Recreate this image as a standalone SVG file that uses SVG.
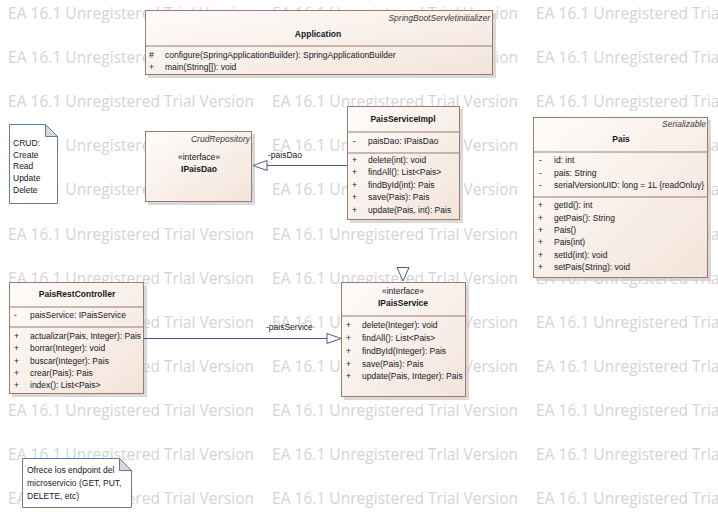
<svg xmlns="http://www.w3.org/2000/svg" width="718" height="512" viewBox="0 0 718 512">
<defs>
<linearGradient id="fillG" x1="0" y1="0" x2="1" y2="1">
<stop offset="0" stop-color="#fefcfa"/>
<stop offset="1" stop-color="#f3e4da"/>
</linearGradient>
<style>
.wm{font-family:"Open Sans","Liberation Sans",sans-serif;font-size:15.5px;fill:#d4d4d4}
.box{fill:url(#fillG);stroke:#9a7b70;stroke-width:1}
.sh{fill:#c9c9c9;opacity:0.7}
.div{stroke:#9a7b70;stroke-width:1}
.t{font-family:"Liberation Sans",Arial,sans-serif;font-size:8.5px;fill:#16161e}
.b{font-weight:bold;text-anchor:middle}
.st{font-style:italic;text-anchor:end;fill:#3a3a3a}
.c{text-anchor:middle}
.note{fill:#ffffff;stroke:#5f7f99;stroke-width:1}
.fold{fill:#d9d9d9;stroke:#5f7f99;stroke-width:1}
.con{stroke:#4c5a85;stroke-width:1;fill:none}
.head{fill:#ffffff;stroke:#4c5a85;stroke-width:1}
.lbl{font-family:"Liberation Sans",Arial,sans-serif;font-size:8.5px;fill:#16161e}
</style>
</defs>
<rect width="718" height="512" fill="#ffffff"/>
<g id="watermark">
<text class="wm" x="8" y="19" textLength="246">EA 16.1 Unregistered Trial Version</text>
<text class="wm" x="272" y="19" textLength="246">EA 16.1 Unregistered Trial Version</text>
<text class="wm" x="536" y="19" textLength="246">EA 16.1 Unregistered Trial Version</text>
<text class="wm" x="8" y="63" textLength="246">EA 16.1 Unregistered Trial Version</text>
<text class="wm" x="272" y="63" textLength="246">EA 16.1 Unregistered Trial Version</text>
<text class="wm" x="536" y="63" textLength="246">EA 16.1 Unregistered Trial Version</text>
<text class="wm" x="8" y="107" textLength="246">EA 16.1 Unregistered Trial Version</text>
<text class="wm" x="272" y="107" textLength="246">EA 16.1 Unregistered Trial Version</text>
<text class="wm" x="536" y="107" textLength="246">EA 16.1 Unregistered Trial Version</text>
<text class="wm" x="8" y="151" textLength="246">EA 16.1 Unregistered Trial Version</text>
<text class="wm" x="272" y="151" textLength="246">EA 16.1 Unregistered Trial Version</text>
<text class="wm" x="536" y="151" textLength="246">EA 16.1 Unregistered Trial Version</text>
<text class="wm" x="8" y="195" textLength="246">EA 16.1 Unregistered Trial Version</text>
<text class="wm" x="272" y="195" textLength="246">EA 16.1 Unregistered Trial Version</text>
<text class="wm" x="536" y="195" textLength="246">EA 16.1 Unregistered Trial Version</text>
<text class="wm" x="8" y="240" textLength="246">EA 16.1 Unregistered Trial Version</text>
<text class="wm" x="272" y="240" textLength="246">EA 16.1 Unregistered Trial Version</text>
<text class="wm" x="536" y="240" textLength="246">EA 16.1 Unregistered Trial Version</text>
<text class="wm" x="8" y="284" textLength="246">EA 16.1 Unregistered Trial Version</text>
<text class="wm" x="272" y="284" textLength="246">EA 16.1 Unregistered Trial Version</text>
<text class="wm" x="536" y="284" textLength="246">EA 16.1 Unregistered Trial Version</text>
<text class="wm" x="8" y="328" textLength="246">EA 16.1 Unregistered Trial Version</text>
<text class="wm" x="272" y="328" textLength="246">EA 16.1 Unregistered Trial Version</text>
<text class="wm" x="536" y="328" textLength="246">EA 16.1 Unregistered Trial Version</text>
<text class="wm" x="8" y="372" textLength="246">EA 16.1 Unregistered Trial Version</text>
<text class="wm" x="272" y="372" textLength="246">EA 16.1 Unregistered Trial Version</text>
<text class="wm" x="536" y="372" textLength="246">EA 16.1 Unregistered Trial Version</text>
<text class="wm" x="8" y="416" textLength="246">EA 16.1 Unregistered Trial Version</text>
<text class="wm" x="272" y="416" textLength="246">EA 16.1 Unregistered Trial Version</text>
<text class="wm" x="536" y="416" textLength="246">EA 16.1 Unregistered Trial Version</text>
<text class="wm" x="8" y="460" textLength="246">EA 16.1 Unregistered Trial Version</text>
<text class="wm" x="272" y="460" textLength="246">EA 16.1 Unregistered Trial Version</text>
<text class="wm" x="536" y="460" textLength="246">EA 16.1 Unregistered Trial Version</text>
<text class="wm" x="8" y="504" textLength="246">EA 16.1 Unregistered Trial Version</text>
<text class="wm" x="272" y="504" textLength="246">EA 16.1 Unregistered Trial Version</text>
<text class="wm" x="536" y="504" textLength="246">EA 16.1 Unregistered Trial Version</text>
</g>

<g id="Application">
<rect class="sh" x="148" y="13" width="348" height="65"/>
<rect class="box" x="145.5" y="10.5" width="347" height="64"/>
<text class="t st" x="490" y="21">SpringBootServletinitializer</text>
<text class="t b" x="318" y="37">Application</text>
<line class="div" x1="145.5" y1="46" x2="492.5" y2="46"/>
<text class="t" x="149" y="58">#</text>
<text class="t" x="165" y="58">configure(SpringApplicationBuilder): SpringApplicationBuilder</text>
<text class="t" x="149" y="70">+</text>
<text class="t" x="165" y="70">main(String[]): void</text>
</g>

<g id="noteCRUD">
<path class="note" d="M9.5,124.5 H45.5 L57.5,136.5 V203.5 H9.5 Z"/>
<path class="fold" d="M45.5,124.5 V136.5 H57.5 Z"/>
<text class="t" x="13" y="146">CRUD:</text>
<text class="t" x="13" y="158">Create</text>
<text class="t" x="13" y="169">Read</text>
<text class="t" x="13" y="181">Update</text>
<text class="t" x="13" y="193">Delete</text>
</g>

<g id="IPaisDao">
<rect class="sh" x="148" y="134" width="107" height="71"/>
<rect class="box" x="145.5" y="131.5" width="106" height="70"/>
<text class="t st" x="250" y="142">CrudRepository</text>
<text class="t c" x="199" y="160">«interface»</text>
<text class="t b" x="199" y="172">IPaisDao</text>
</g>

<g id="PaisServiceImpl">
<rect class="sh" x="350" y="109" width="113" height="114"/>
<rect class="box" x="347.5" y="106.5" width="112" height="113"/>
<text class="t b" x="403" y="122">PaisServiceImpl</text>
<line class="div" x1="347.5" y1="132" x2="459.5" y2="132"/>
<text class="t" x="353" y="144">-</text>
<text class="t" x="368" y="144">paisDao: IPaisDao</text>
<line class="div" x1="347.5" y1="153" x2="459.5" y2="153"/>
<text class="t" x="352" y="163">+</text>
<text class="t" x="368" y="163">delete(int): void</text>
<text class="t" x="352" y="175">+</text>
<text class="t" x="368" y="175">findAll(): List&lt;Pais&gt;</text>
<text class="t" x="352" y="188">+</text>
<text class="t" x="368" y="188">findById(int): Pais</text>
<text class="t" x="352" y="200">+</text>
<text class="t" x="368" y="200">save(Pais): Pais</text>
<text class="t" x="352" y="213">+</text>
<text class="t" x="368" y="213">update(Pais, int): Pais</text>
</g>

<g id="Pais">
<rect class="sh" x="536" y="120" width="175" height="161"/>
<rect class="box" x="533.5" y="117.5" width="174" height="160"/>
<text class="t st" x="706" y="127">Serializable</text>
<text class="t b" x="621" y="142">Pais</text>
<line class="div" x1="533.5" y1="152" x2="707.5" y2="152"/>
<text class="t" x="539" y="163">-</text>
<text class="t" x="554" y="163">id: int</text>
<text class="t" x="539" y="176">-</text>
<text class="t" x="554" y="176">pais: String</text>
<text class="t" x="539" y="188">-</text>
<text class="t" x="554" y="188" textLength="150" lengthAdjust="spacingAndGlyphs">serialVersionUID: long = 1L {readOnluy}</text>
<line class="div" x1="533.5" y1="197" x2="707.5" y2="197"/>
<text class="t" x="538" y="208">+</text>
<text class="t" x="554" y="208">getId(): int</text>
<text class="t" x="538" y="221">+</text>
<text class="t" x="554" y="221">getPais(): String</text>
<text class="t" x="538" y="233">+</text>
<text class="t" x="554" y="233">Pais()</text>
<text class="t" x="538" y="245">+</text>
<text class="t" x="554" y="245">Pais(int)</text>
<text class="t" x="538" y="258">+</text>
<text class="t" x="554" y="258">setId(int): void</text>
<text class="t" x="538" y="270">+</text>
<text class="t" x="554" y="270">setPais(String): void</text>
</g>

<g id="PaisRestController">
<rect class="sh" x="12" y="285" width="135" height="112"/>
<rect class="box" x="9.5" y="282.5" width="134" height="111"/>
<text class="t b" x="77" y="297">PaisRestController</text>
<line class="div" x1="9.5" y1="307" x2="143.5" y2="307"/>
<text class="t" x="14" y="318">-</text>
<text class="t" x="30" y="318">paisService: IPaisService</text>
<line class="div" x1="9.5" y1="327" x2="143.5" y2="327"/>
<text class="t" x="14" y="339">+</text>
<text class="t" x="30" y="339">actualizar(Pais, Integer): Pais</text>
<text class="t" x="14" y="351">+</text>
<text class="t" x="30" y="351">borrar(Integer): void</text>
<text class="t" x="14" y="364">+</text>
<text class="t" x="30" y="364">buscar(Integer): Pais</text>
<text class="t" x="14" y="376">+</text>
<text class="t" x="30" y="376">crear(Pais): Pais</text>
<text class="t" x="14" y="388">+</text>
<text class="t" x="30" y="388">index(): List&lt;Pais&gt;</text>
</g>

<g id="IPaisService">
<rect class="sh" x="344" y="285" width="125" height="115"/>
<rect class="box" x="341.5" y="282.5" width="124" height="114"/>
<text class="t c" x="403" y="294">«interface»</text>
<text class="t b" x="403" y="306">IPaisService</text>
<line class="div" x1="341.5" y1="316" x2="465.5" y2="316"/>
<text class="t" x="346" y="328">+</text>
<text class="t" x="362" y="328">delete(Integer): void</text>
<text class="t" x="346" y="341">+</text>
<text class="t" x="362" y="341">findAll(): List&lt;Pais&gt;</text>
<text class="t" x="346" y="354">+</text>
<text class="t" x="362" y="354">findById(Integer): Pais</text>
<text class="t" x="346" y="367">+</text>
<text class="t" x="362" y="367">save(Pais): Pais</text>
<text class="t" x="346" y="379">+</text>
<text class="t" x="362" y="379">update(Pais, Integer): Pais</text>
</g>

<g id="noteEndpoint">
<path class="note" d="M22.5,458.5 H119.5 L131.5,470.5 V507.5 H22.5 Z"/>
<path class="fold" d="M119.5,458.5 V470.5 H131.5 Z"/>
<text class="t" x="27" y="473">Ofrece los endpoint del</text>
<text class="t" x="27" y="486">microservicio (GET, PUT,</text>
<text class="t" x="27" y="499">DELETE, etc)</text>
</g>

<g id="connectors">
<line class="con" x1="347" y1="165.5" x2="253" y2="165.5"/>
<path class="head" d="M253,165.5 L267,160.5 L267,170.5 Z"/>
<text class="lbl" x="268" y="158">-paisDao</text>
<line class="con" x1="144" y1="338.5" x2="341" y2="338.5"/>
<path class="head" d="M341,338.5 L327,333.5 L327,343.5 Z"/>
<text class="lbl" x="266" y="330">-paisService</text>
<path class="head" d="M403,281 L397,267.5 L409,267.5 Z"/>
</g>
</svg>
